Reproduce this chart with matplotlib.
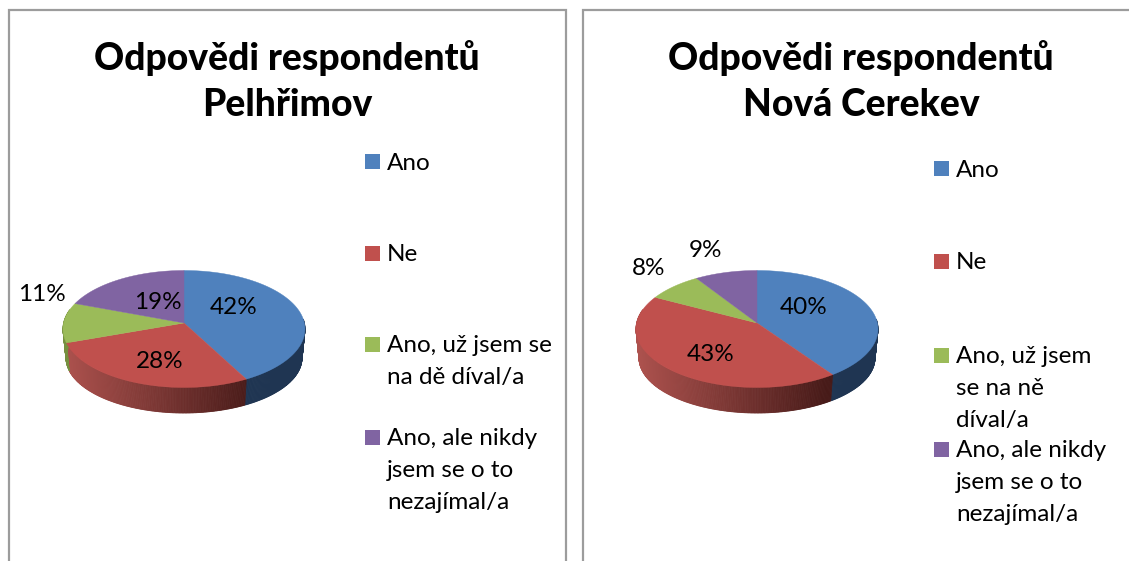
import numpy as np
import matplotlib
matplotlib.use("Agg")
import matplotlib.pyplot as plt
from matplotlib.colors import to_rgb
from matplotlib.patches import Rectangle

plt.rcParams['font.family'] = ['Lato', 'DejaVu Sans']

title_main = "Odpovědi respondentů"
town_a = "Pelhřimov"
town_b = "Nová Cerekev"
values_a = [42, 28, 11, 19]
values_b = [40, 43, 8, 9]
legend_a = ["Ano", "Ne", "Ano, už jsem se\nna dě díval/a", "Ano, ale nikdy\njsem se o to\nnezajímal/a"]
legend_b = ["Ano", "Ne", "Ano, už jsem\nse na ně\ndíval/a", "Ano, ale nikdy\njsem se o to\nnezajímal/a"]
colors = ["#4F81BD", "#C0504D", "#9BBB59", "#8064A2"]

W, H = 1129, 561
fig = plt.figure(figsize=(W / 100, H / 100), dpi=100, facecolor="white")
ax = fig.add_axes([0, 0, 1, 1])
ax.set_xlim(0, W)
ax.set_ylim(H, 0)
ax.axis("off")

FRAME = "#9C9C9C"
ax.plot([9, 9, 566, 566], [561, 10, 10, 561], color=FRAME, lw=1.6, solid_joinstyle="miter")
ax.plot([583, 583, 1129], [561, 10, 10], color=FRAME, lw=1.6, solid_joinstyle="miter")


def warp(th):
    # the tilted view moves the slice edges a little on the rim
    return th - np.radians(4.5) * np.sin(th)


def top_rim(cx, th):
    t = warp(th)
    return cx + 121 * np.sin(t), 329 - 58.5 * np.cos(t)


def bottom_rim(cx, th):
    t = warp(th)
    return cx + 118 * np.sin(t), 358 - 55 * np.cos(t)


def wall_colour(idx, frac):
    if idx == 1:
        a, b = np.array(to_rgb("#AD524E")), np.array(to_rgb("#471A18"))
        return tuple(a + (b - a) * frac)
    return {0: "#1F3552", 2: "#76903F", 3: "#5E4A7A"}[idx]


def pie3d(cx, values):
    edges = np.radians(np.cumsum([0] + values) * 3.6)
    for i in range(len(values)):
        lo, hi = max(edges[i], np.radians(85)), min(edges[i + 1], np.radians(285))
        if hi <= lo:
            continue
        ts = np.linspace(lo, hi, max(int((hi - lo) * 90), 2))
        for t0, t1 in zip(ts[:-1], ts[1:]):
            x0, y0 = top_rim(cx, t0)
            x1, y1 = top_rim(cx, t1)
            x2, y2 = bottom_rim(cx, t1)
            x3, y3 = bottom_rim(cx, t0)
            frac = np.clip((x0 - (cx - 121)) / 191, 0, 1)
            ax.fill([x0, x1, x2, x3], [y0, y1, y2, y3], color=wall_colour(i, frac), lw=0.6, zorder=2)
    for i in range(len(values)):
        ts = np.linspace(edges[i], edges[i + 1], 120)
        xs, ys = top_rim(cx, ts)
        ax.fill(np.r_[cx, xs], np.r_[323, ys], color=colors[i], lw=0.3, zorder=3)


pie3d(184, values_a)
pie3d(757, values_b)

for cx, town in ((287, town_a), (861, town_b)):
    ax.text(cx, 58, title_main, ha="center", va="center", fontsize=26.8, fontweight="black", color="black")
    ax.text(cx, 105, town, ha="center", va="center", fontsize=26.8, fontweight="black", color="black")

pos_a = [(234, 307), (160, 361), (42, 294), (158, 302)]
pos_b = [(804, 307), (711, 354), (649, 268), (706, 250)]
for vals, pos in ((values_a, pos_a), (values_b, pos_b)):
    for v, (x, y) in zip(vals, pos):
        ax.text(x, y, f"{v}%", ha="center", va="center", fontsize=17.5, color="black", zorder=6)

sq_a = [161.5, 253, 344, 437]
sq_b = [168.5, 261, 355, 449]
for labels, sq, x0 in ((legend_a, sq_a, 365), (legend_b, sq_b, 934)):
    for lab, c, y in zip(labels, colors, sq):
        ax.add_patch(Rectangle((x0, y - 7.5), 15, 15, facecolor=c, edgecolor="none", zorder=5))
        for k, part in enumerate(lab.split("\n")):
            ax.text(x0 + 22, y + 1.5 + k * 32, part, ha="left", va="center", fontsize=17.5, color="black", zorder=5)

fig.savefig("out.png", dpi=100, facecolor="white")
